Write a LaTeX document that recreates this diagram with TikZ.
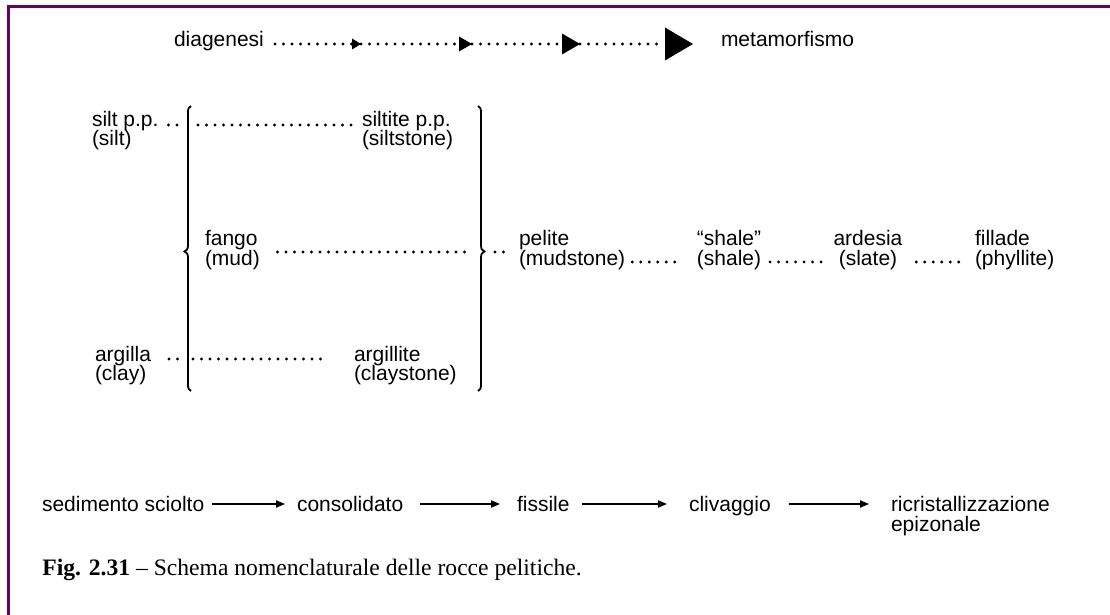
\documentclass[tikz,border=0pt]{standalone}
\usepackage{fontspec}
\setmainfont{Liberation Serif}
\newfontfamily\helv{Liberation Sans}
\usetikzlibrary{arrows.meta}
\definecolor{frm}{RGB}{102,0,102}
\tikzset{
  lbl/.style={font=\helv\fontsize{10.5pt}{9.5pt}\selectfont, inner sep=0pt, outer sep=0pt, anchor=base west},
  lblc/.style={lbl, anchor=base},
  dotl/.style={line width=1.6pt, line cap=round, dash pattern=on 0pt off 4.25pt},
  brc/.style={line width=0.9pt},
  solarrow/.style={line width=0.7pt, -{Triangle[length=4.5pt,width=3.6pt]}},
  framel/.style={frm, line width=1.5pt}
}
\begin{document}
\begin{tikzpicture}[x=0.5pt,y=-0.5pt]
\useasboundingbox[fill=white] (0,0) rectangle (1110,615);
% frame
\draw[framel] (8,615) -- (8,6.5) -- (1110,6.5);

% top row
\node[lbl] (diag) at (174,47) {diagenesi};
\node[lbl] (meta) at (721,47) {metamorfismo};
\coordinate (t1) at (361,44);
\coordinate (t2) at (472,44);
\coordinate (t3) at (580,44);
\draw[dotl, -{Triangle[length=4.5pt,width=5.5pt,line width=0pt]}] ([xshift=5.5pt,yshift=1.5pt]diag.base east) -- (t1);
\draw[dotl, -{Triangle[length=6.5pt,width=7.5pt,line width=0pt]}] (t1) -- (t2);
\draw[dotl, -{Triangle[length=9pt,width=10.5pt,line width=0pt]}] (t2) -- (t3);
\draw[dotl, shorten >=14pt, -{Triangle[length=14pt,width=16.5pt,line width=0pt]}] (t3) -- ([yshift=1.5pt]meta.base west);

% braces
\draw[brc] (191,106) .. controls (188.5,107) and (188,109) .. (188,113) -- (188,245)
  .. controls (188,249) and (187,250.5) .. (184.5,251.5)
  .. controls (187,252.5) and (188,254) .. (188,258) -- (188,384)
  .. controls (188,388) and (188.5,390) .. (191,391);
\draw[brc] (478,106) .. controls (480.5,107) and (481,109) .. (481,113) -- (481,245)
  .. controls (481,249) and (482,250.5) .. (484.5,251.5)
  .. controls (482,252.5) and (481,254) .. (481,258) -- (481,384)
  .. controls (481,388) and (480.5,390) .. (478,391);
\coordinate (LBs) at (188,125);
\coordinate (LBa) at (188,359);
\coordinate (RBf) at (481,252);

% silt row
\node[lbl] (siltA) at (92,127) {silt p.p.};
\node[lbl] (siltB) at (92,146) {(silt)};
\node[lbl] (stA) at (362,127) {siltite p.p.};
\node[lbl] (stB) at (362,146) {(siltstone)};
\draw[dotl] ([xshift=5pt,yshift=1pt]siltA.base east) -- ([xshift=-3.5pt]LBs);
\draw[dotl] ([xshift=5pt]LBs) -- ([xshift=-4.5pt,yshift=1pt]stA.base west);

% fango row
\node[lbl] (fgA) at (205,246) {fango};
\node[lbl] (fgB) at (205,265) {(mud)};
\draw[dotl] ([xshift=10pt,yshift=-3pt]fgA.base east) -- ([xshift=-8pt]RBf);

\node[lbl] (plA) at (519,246) {pelite};
\node[lbl] (plB) at (519,265) {(mudstone)};
\draw[dotl] ([xshift=7pt]RBf) -- ([xshift=-6pt,yshift=-3pt]plA.base west);

\node[lblc] (shA) at (729,246) {“shale”};
\node[lblc] (shB) at (729,265) {(shale)};
\node[lblc] (arA) at (868,246) {ardesia};
\node[lblc] (arB) at (868,265) {(slate)};
\node[lbl] (fiA) at (975,246) {fillade};
\node[lbl] (fiB) at (975,265) {(phyllite)};
\draw[dotl] ([xshift=3.5pt,yshift=1.5pt]plB.base east) -- ([xshift=-9.5pt,yshift=1.5pt]shB.base west);
\draw[dotl] ([xshift=4.5pt,yshift=1.5pt]shB.base east) -- ([xshift=-7.5pt,yshift=1.5pt]arB.base west);
\draw[dotl] ([xshift=9.5pt,yshift=1.5pt]arB.base east) -- ([xshift=-6pt,yshift=1.5pt]fiB.base west);

% argilla row
\node[lbl] (agA) at (95,361) {argilla};
\node[lbl] (agB) at (95,380) {(clay)};
\node[lbl] (aiA) at (354,361) {argillite};
\node[lbl] (aiB) at (354,380) {(claystone)};
\draw[dotl] ([xshift=9pt,yshift=1pt]agA.base east) -- ([xshift=-3.5pt]LBa);
\draw[dotl] ([xshift=2.5pt]LBa) -- ([xshift=-14pt,yshift=1pt]aiA.base west);

% bottom row
\node[lbl] (sed) at (42,511) {sedimento sciolto};
\node[lbl] (cons) at (297,511) {consolidato};
\node[lbl] (fiss) at (517,511) {fissile};
\node[lbl] (cliv) at (689,511) {clivaggio};
\node[lbl] (ricA) at (891,511) {ricristallizzazione};
\node[lbl] (ricB) at (891,531) {epizonale};
\draw[solarrow, shorten <=4pt, shorten >=6pt] ([yshift=3.5pt]sed.base east) -- ([yshift=3.5pt]cons.base west);
\draw[solarrow, shorten <=8.5pt, shorten >=8.5pt] ([yshift=3.5pt]cons.base east) -- ([yshift=3.5pt]fiss.base west);
\draw[solarrow, shorten <=6pt, shorten >=11pt] ([yshift=3.5pt]fiss.base east) -- ([yshift=3.5pt]cliv.base west);
\draw[solarrow, shorten <=9pt, shorten >=11pt] ([yshift=3.5pt]cliv.base east) -- ([yshift=3.5pt]ricA.base west);

% caption
\node[inner sep=0pt, anchor=base west, font=\fontsize{11.8pt}{14pt}\selectfont] (capt) at (42,575)
  {\textbf{Fig. 2.31} – Schema nomenclaturale delle rocce pelitiche.};
\end{tikzpicture}
\end{document}
